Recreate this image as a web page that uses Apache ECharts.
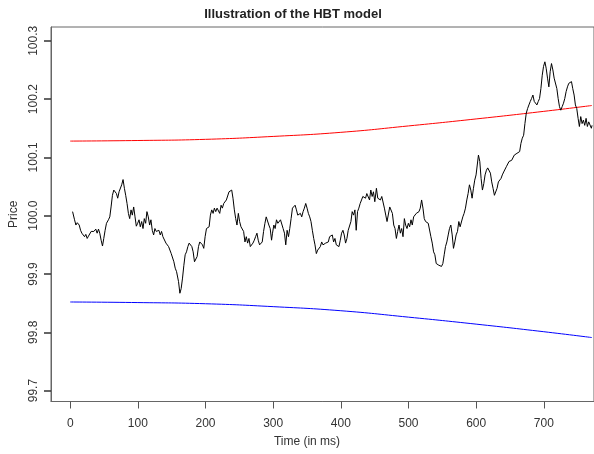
<!DOCTYPE html>
<html><head><meta charset="utf-8">
<script src="https://cdn.jsdelivr.net/npm/echarts@6/dist/echarts.min.js"></script>
<style>html,body{margin:0;padding:0;background:#fff}#c{width:594px;height:454px}</style>
</head><body><div id="c"></div>
<script>
const titleText = 'Illustration of the HBT model';
const xAxisName = 'Time (in ms)';
const yAxisName = 'Price';
const xTicks = [0, 100, 200, 300, 400, 500, 600, 700];
const yTicks = [99.7, 99.8, 99.9, 100.0, 100.1, 100.2, 100.3];

const boundTimes = [0, 100, 200, 300, 400, 500, 600, 700, 771];
const upperBound = [100.128, 100.129, 100.131, 100.136, 100.143, 100.154, 100.166, 100.179, 100.189];
const lowerBound = [99.852, 99.851, 99.849, 99.844, 99.837, 99.826, 99.814, 99.801, 99.791];

const pricePath = [
[3.5,100.007],[6.4,99.993],[8.4,99.984],[10.4,99.988],[13.3,99.984],[15.3,99.975],[17.2,99.970],[19.2,99.973],[21.2,99.964],[23.1,99.968],
[25.1,99.961],[27.0,99.965],[29.0,99.967],[31.0,99.973],[32.9,99.975],[34.9,99.973],[37.8,99.977],[39.8,99.970],[41.8,99.977],[43.7,99.970],
[45.7,99.958],[47.7,99.948],[49.6,99.961],[51.6,99.975],[53.6,99.987],[56.5,99.993],[58.5,99.998],[60.4,100.015],[62.4,100.035],[64.4,100.044],
[66.3,100.041],[68.3,100.038],[70.2,100.030],[72.2,100.041],[74.2,100.038],[76.1,100.053],[78.1,100.062],[80.1,100.047],[82.0,100.035],[84.0,100.021],
[86.0,100.004],[87.9,99.995],[89.9,100.010],[91.8,100.001],[93.8,100.015],[95.8,99.998],[97.7,99.982],[99.7,99.987],[101.7,99.993],[103.6,99.981],
[105.6,99.990],[107.6,99.978],[109.5,99.995],[111.5,99.987],[113.4,100.007],[115.4,99.998],[117.4,99.984],[119.3,99.993],[121.3,99.975],[123.3,99.967],
[125.2,99.978],[127.2,99.973],[129.2,99.970],[131.1,99.975],[133.1,99.967],[135.0,99.973],[137.0,99.964],[139.0,99.967],
[141.5,99.953],[143.4,99.955],[145.4,99.947],[147.4,99.950],[149.3,99.935],[151.3,99.933],[153.2,99.921],[155.2,99.910],[157.2,99.904],[159.1,99.901],
[160.1,99.887],[162.1,99.867],[164.0,99.875],[166.0,99.893],[168.0,99.915],[169.9,99.933],[171.9,99.938],[173.9,99.947],[175.8,99.953],[177.8,99.955],
[179.8,99.947],[181.7,99.938],[183.7,99.921],[185.6,99.918],[187.6,99.930],[189.6,99.947],[191.5,99.955],[193.5,99.958],[195.5,99.950],[197.4,99.944],
[199.4,99.964],[201.4,99.978],[203.3,99.975],[205.3,99.981],[207.2,100.001],[209.2,100.010],[211.2,100.004],[213.1,100.013],[215.1,100.007],[217.1,100.013],
[219.0,100.015],[221.0,100.004],[223.0,100.018],[224.9,100.013],[226.9,100.021],[228.8,100.024],[230.8,100.027],[232.8,100.030],[234.7,100.041],[236.7,100.038],
[238.7,100.044],[240.6,100.030],[242.6,100.010],[244.6,99.995],[246.5,99.984],[248.5,100.004],[250.4,99.990],[252.4,99.981],[254.4,99.978],[256.3,99.973],
[258.3,99.955],[260.3,99.964],[262.2,99.953],[264.2,99.961],[266.2,99.947],[268.1,99.947],[270.1,99.953],[272.1,99.958],[274.0,99.964],[276.0,99.970],
[277.9,99.958],[279.9,99.950],[281.9,99.953],[283.8,99.955],[285.8,99.973],[287.8,99.987],[289.7,99.998],[291.7,99.995],[293.6,99.984],[295.6,99.978],
[297.6,99.958],
[299.0,99.970],[301.0,99.984],[302.9,99.978],[304.9,99.993],[306.9,99.987],[308.8,99.990],[310.8,99.993],[312.8,99.990],[314.7,99.978],[316.7,99.970],
[318.6,99.950],[320.6,99.975],[322.6,99.964],[324.5,99.978],[326.5,99.995],[328.5,100.013],[330.4,100.015],[332.4,100.018],[334.4,100.010],[336.3,100.001],
[338.3,99.998],[340.2,100.004],[342.2,99.998],[344.2,100.007],[346.1,100.013],[348.1,100.021],[350.1,100.013],[352.0,100.004],[354.0,99.998],[355.9,99.990],
[357.9,99.975],[359.9,99.961],[361.8,99.950],[363.8,99.935],[365.8,99.941],[367.7,99.938],[369.7,99.947],[371.7,99.955],[373.6,99.950],[375.6,99.947],
[377.6,99.953],[379.5,99.950],[381.5,99.955],[383.4,99.964],[385.4,99.961],[387.4,99.967],[389.3,99.955],[391.3,99.961],[393.3,99.950],[395.2,99.953],
[397.2,99.947],[399.2,99.958],[401.1,99.970],[403.1,99.975],[405.0,99.967],[407.0,99.953],[409.0,99.961],[410.9,99.975],[412.9,99.978],[414.9,99.990],
[416.8,100.007],[418.8,100.001],[420.8,100.010],[422.7,99.975],[424.7,100.007],[426.6,100.013],[428.6,100.021],[430.6,100.027],[432.5,100.033],[434.5,100.035],
[436.5,100.030],[438.4,100.038],[440.4,100.035],[442.4,100.027],[444.3,100.044],[446.3,100.033],[448.2,100.041],[450.2,100.024],
[452.6,100.047],[454.6,100.030],[456.6,100.033],[458.5,100.027],[460.5,100.033],[462.4,100.030],[464.4,100.013],[466.4,100.001],[468.3,99.990],[470.3,99.987],
[472.3,100.015],[474.2,100.013],[476.2,100.004],[478.2,99.984],[480.1,99.978],[482.1,99.961],[484.0,99.973],[486.0,99.984],[488.0,99.970],[489.9,99.978],
[491.9,99.964],[493.9,99.995],[495.8,99.984],[497.8,99.978],[499.8,99.987],[501.7,99.981],[503.7,99.993],[505.6,99.984],[507.6,99.998],[509.6,99.995],
[511.5,100.004],[513.5,100.001],[515.5,100.007],[517.4,100.013],[519.4,100.027],[521.4,100.013],[523.3,99.995],[525.3,99.990],[527.2,99.993],[529.2,99.987],
[531.2,99.984],[533.1,99.964],[535.1,99.953],[537.1,99.938],[539.0,99.933],[541.0,99.918],[543.0,99.917],[544.9,99.915],[546.9,99.918],[548.8,99.913],
[550.8,99.918],[552.8,99.933],[554.7,99.947],[556.7,99.955],[558.7,99.967],[560.6,99.978],[562.6,99.984],[564.6,99.967],[566.5,99.944],[568.5,99.955],
[570.4,99.967],[572.4,99.973],[574.4,99.990],[576.3,99.981],[578.3,99.978],[580.3,99.998],[582.2,100.004],[584.2,100.013],[586.2,100.027],[588.1,100.038],
[590.1,100.053],[592.1,100.044],[594.0,100.030],[596.0,100.047],[597.9,100.061],[599.9,100.070],
[603.4,100.104],[605.4,100.093],[607.3,100.064],[609.3,100.044],[611.3,100.055],[613.2,100.070],[615.2,100.078],[617.1,100.082],[619.1,100.081],[621.1,100.073],
[623.0,100.058],[625.0,100.047],[627.0,100.035],[628.9,100.033],[630.9,100.047],[632.9,100.058],[634.8,100.055],[636.8,100.064],[638.7,100.070],[640.7,100.075],
[642.7,100.073],[644.6,100.084],[646.6,100.081],[648.6,100.093],[650.5,100.090],[652.5,100.095],[654.5,100.098],[656.4,100.104],[658.4,100.101],[660.3,100.107],
[662.3,100.107],[664.3,100.110],[666.2,100.124],[668.2,100.133],[670.2,100.138],[672.1,100.158],[674.1,100.176],[676.1,100.184],[678.0,100.190],[680.0,100.196],
[681.9,100.201],[683.9,100.207],[685.9,100.196],[687.8,100.198],[689.8,100.190],[691.8,100.196],[693.7,100.201],[695.7,100.218],[697.7,100.241],[699.6,100.256],
[701.6,100.264],[703.5,100.253],[705.5,100.236],[707.5,100.221],[709.4,100.247],[711.4,100.261],[713.4,100.250],[715.3,100.236],[717.3,100.233],[719.3,100.218],
[721.2,100.201],[723.2,100.187],[725.1,100.181],[727.1,100.187],[729.1,100.193],[731.0,100.201],[733.0,100.213],[735.0,100.221],[736.9,100.227],[738.9,100.224],
[740.9,100.230],[742.8,100.218],[744.8,100.207],[746.7,100.190],[748.7,100.184],[750.7,100.167],[752.6,100.153],[754.6,100.170],[756.6,100.158],[758.5,100.164],
[760.5,100.155],[762.5,100.167],[764.4,100.153],[766.4,100.161],[768.4,100.158],[770.3,100.150],[771.3,100.155]
];

const font = 'Liberation Sans';
const yMin = 99.6813, yMax = 100.3237;
const chart = echarts.init(document.getElementById('c'));
chart.setOption({
  animation: false,
  title: {
    text: titleText, left: 288, top: 3, textAlign: 'center',
    textStyle: { fontFamily: font, fontSize: 13, fontWeight: 'bold', color: '#222' }
  },
  grid: { left: 51, right: -2, top: 27, bottom: 52.5, show: true, borderColor: '#666', borderWidth: 1 },
  xAxis: {
    type: 'value', min: -28.4, max: 774.2, position: 'bottom',
    name: xAxisName, nameLocation: 'middle', nameGap: 34,
    nameTextStyle: { fontFamily: font, fontSize: 12, color: '#333', padding: [0, 31, 0, 0] },
    axisLine: { show: true, onZero: false, lineStyle: { color: '#666', width: 1 } },
    axisTick: { show: true, length: 7, customValues: xTicks, lineStyle: { color: '#555', width: 1 } },
    axisLabel: { customValues: xTicks, margin: 16, fontFamily: font, fontSize: 12, color: '#333',
      formatter: v => String(Math.round(v)) },
    splitLine: { show: false }
  },
  yAxis: {
    type: 'value', min: yMin, max: yMax, position: 'left',
    name: yAxisName, nameLocation: 'middle', nameGap: 30,
    nameTextStyle: { fontFamily: font, fontSize: 12, color: '#333' },
    axisLine: { show: true, onZero: false, lineStyle: { color: '#666', width: 1 } },
    axisTick: { show: true, length: 7, customValues: yTicks, lineStyle: { color: '#333', width: 1.5 } },
    axisLabel: { customValues: yTicks, rotate: 90, margin: 11, fontFamily: font, fontSize: 12, color: '#333',
      formatter: v => v.toFixed(1) },
    splitLine: { show: false }
  },
  series: [
    { type: 'line', data: boundTimes.map((t, i) => [t, upperBound[i]]), smooth: true, symbol: 'none',
      lineStyle: { color: '#ff0000', width: 1 } },
    { type: 'line', data: boundTimes.map((t, i) => [t, lowerBound[i]]), smooth: true, symbol: 'none',
      lineStyle: { color: '#0000ff', width: 1 } },
    { type: 'line', data: pricePath, symbol: 'none',
      lineStyle: { color: '#000000', width: 1 } }
  ]
});
</script>
</body></html>
